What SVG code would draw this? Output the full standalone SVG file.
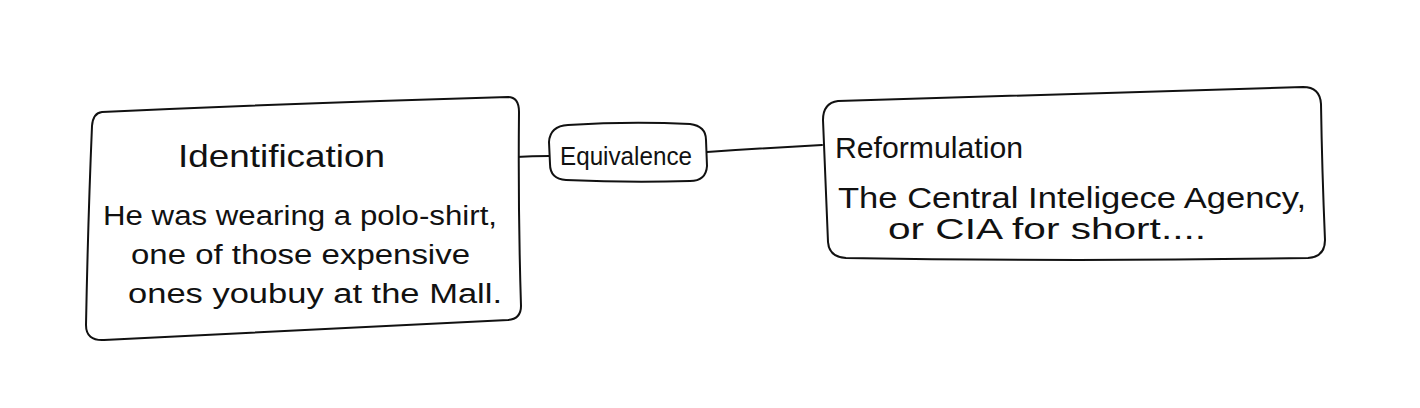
<svg xmlns="http://www.w3.org/2000/svg" width="1420" height="408" viewBox="0 0 1420 408">
<style>
.box{fill:#fff;stroke:#111;stroke-width:2;stroke-linejoin:round;stroke-linecap:round}
.edge{fill:none;stroke:#111;stroke-width:2;stroke-linecap:round}
text{font-family:"Liberation Sans","DejaVu Sans",sans-serif;fill:#111}
</style>
<rect width="1420" height="408" fill="#fff"/>
<g id="connectors">
<path class="edge" d="M 516 157 Q 532 156 549 156"/>
<path class="edge" d="M 707 152 Q 765 148 822 145"/>
</g>
<g id="identification">
<path class="box" d="M 102 112 Q 300 103 508 97 Q 519 97 519 112 Q 518 210 521 306 Q 521 319 508 320 Q 300 330 104 340 Q 86 341 86 325 Q 88 220 92 126 Q 93 113 102 112 Z"/>
<text x="178" y="167" font-size="32" textLength="207" lengthAdjust="spacingAndGlyphs">Identification</text>
<text x="103" y="225" font-size="27" textLength="394" lengthAdjust="spacingAndGlyphs">He was wearing a polo-shirt,</text>
<text x="131" y="264" font-size="27" textLength="339" lengthAdjust="spacingAndGlyphs">one of those expensive</text>
<text x="128" y="303" font-size="27" textLength="374" lengthAdjust="spacingAndGlyphs">ones youbuy at the Mall.</text>
</g>
<g id="equivalence">
<path class="box" d="M 568 125 Q 630 121 690 124 Q 706 126 706 140 L 707 166 Q 706 181 690 181 Q 630 183 566 180 Q 550 179 550 164 L 549 142 Q 550 126 568 125 Z"/>
<text x="560" y="165" font-size="25" textLength="132" lengthAdjust="spacingAndGlyphs">Equivalence</text>
</g>
<g id="reformulation">
<path class="box" d="M 838 101 Q 1060 94 1303 87 Q 1320 87 1321 104 Q 1322 170 1325 240 Q 1325 257 1308 258 Q 1080 262 846 258 Q 829 257 828 242 Q 825 175 823 120 Q 823 103 838 101 Z"/>
<text x="835" y="158" font-size="30" textLength="188" lengthAdjust="spacingAndGlyphs">Reformulation</text>
<text x="838" y="208" font-size="30" textLength="468" lengthAdjust="spacingAndGlyphs">The Central Inteligece Agency,</text>
<text x="888" y="239" font-size="30" textLength="318" lengthAdjust="spacingAndGlyphs">or CIA for short....</text>
</g>
</svg>
